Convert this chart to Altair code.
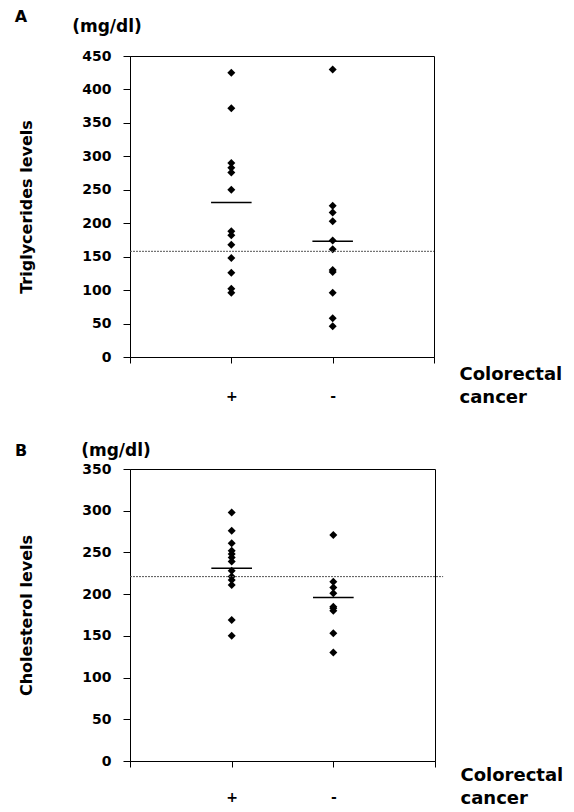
import altair as alt
import pandas as pd

# ---- data ----
groups = ["+", "-"]
group_pos = [1, 2]
x_ticks = [0, 1, 2, 3]

tg_pos = [425, 372, 290, 283, 276, 250, 188, 182, 168, 148, 126, 102, 96]
tg_neg = [430, 226, 216, 203, 174, 161, 130, 127, 96, 58, 46]
tg_means = [231, 173]
tg_ref = 158
tg_ref_end = 3.0
tg_ticks = [0, 50, 100, 150, 200, 250, 300, 350, 400, 450]

ch_pos = [298, 276, 261, 252, 248, 244, 239, 228, 221, 217, 211, 169, 150]
ch_neg = [271, 215, 208, 201, 185, 183, 180, 153, 130]
ch_means = [231, 196]
ch_ref = 221
ch_ref_end = 3.08
ch_ticks = [0, 50, 100, 150, 200, 250, 300, 350]

FONT = "DejaVu Sans"


def panel(pos_vals, neg_vals, means, ref, ref_end, ticks, ytitle, letter, w, h,
          letter_xy, unit_xy, lab_pad, title_y):
    pts = pd.DataFrame(
        {"x": [group_pos[0]] * len(pos_vals) + [group_pos[1]] * len(neg_vals),
         "v": pos_vals + neg_vals}
    )
    mdf = pd.DataFrame(
        {"x1": [g - 0.2 for g in group_pos], "x2": [g + 0.2 for g in group_pos], "v": means}
    )
    rdf = pd.DataFrame({"x1": [x_ticks[0]], "x2": [ref_end], "v": [ref]})

    yscale = alt.Scale(domain=[ticks[0], ticks[-1]], nice=False)
    xscale = alt.Scale(domain=[x_ticks[0], x_ticks[-1]], nice=False)

    xaxis = alt.Axis(
        values=x_ticks,
        labelExpr="datum.value == 1 ? '+' : (datum.value == 2 ? '-' : '')",
        title=["Colorectal", "cancer"],
        titleX=w + 25, titleY=title_y, titleAlign="left", titleBaseline="top",
        titleLineHeight=23, titleFontSize=18, tickSize=6, labelPadding=lab_pad,
        labelFontSize=14,
    )
    yaxis = alt.Axis(
        values=ticks, title=ytitle, titleAngle=270, titleX=-104, titleY=h / 2,
        titleAlign="center", titleBaseline="middle", tickSize=7, labelPadding=12,
        labelOverlap=False, titleFontSize=16,
    )

    points = alt.Chart(pts).mark_point(
        shape="diamond", filled=True, color="black", size=64, opacity=1
    ).encode(
        x=alt.X("x:Q", scale=xscale, axis=xaxis),
        y=alt.Y("v:Q", scale=yscale, axis=yaxis),
    )
    mean_rules = alt.Chart(mdf).mark_rule(color="black", strokeWidth=1.5).encode(
        x=alt.X("x1:Q", scale=xscale, axis=xaxis), x2="x2",
        y=alt.Y("v:Q", scale=yscale, axis=yaxis),
    )
    ref_rule = alt.Chart(rdf).mark_rule(
        color="#555555", strokeWidth=1, strokeDash=[2, 1]
    ).encode(
        x=alt.X("x1:Q", scale=xscale, axis=xaxis), x2="x2",
        y=alt.Y("v:Q", scale=yscale, axis=yaxis),
    )

    lab = pd.DataFrame({"t": [letter]})
    letter_txt = alt.Chart(lab).mark_text(
        font=FONT, fontSize=16, fontWeight="bold", align="center", baseline="middle", color="black"
    ).encode(text="t:N", x=alt.value(letter_xy[0]), y=alt.value(letter_xy[1]))
    unit = pd.DataFrame({"t": ["(mg/dl)"]})
    unit_txt = alt.Chart(unit).mark_text(
        font=FONT, fontSize=17, fontWeight="bold", align="center", baseline="middle", color="black"
    ).encode(text="t:N", x=alt.value(unit_xy[0]), y=alt.value(unit_xy[1]))

    return alt.layer(points, ref_rule, mean_rules, letter_txt, unit_txt).properties(
        width=w, height=h
    )


a = panel(tg_pos, tg_neg, tg_means, tg_ref, tg_ref_end, tg_ticks, "Triglycerides levels", "A",
          304, 301, (-109, -39), (-23, -29), 26, 8)
b = panel(ch_pos, ch_neg, ch_means, ch_ref, ch_ref_end, ch_ticks, "Cholesterol levels", "B",
          305, 292, (-109, -18), (-14, -18), 23, 5)

chart = alt.vconcat(a, b, spacing=34).properties(
    padding={"left": 6, "top": 0, "right": 0, "bottom": 0}
).configure_view(
    stroke="black", strokeWidth=1
).configure_axis(
    grid=False, domainColor="black", tickColor="black", labelColor="black",
    titleColor="black", labelFont=FONT, titleFont=FONT, labelFontSize=14,
    titleFontSize=17, labelFontWeight="bold", titleFontWeight="bold",
    domainWidth=1, tickWidth=1,
)

chart.save("out.html", embed_options={"renderer": "svg", "actions": False})
